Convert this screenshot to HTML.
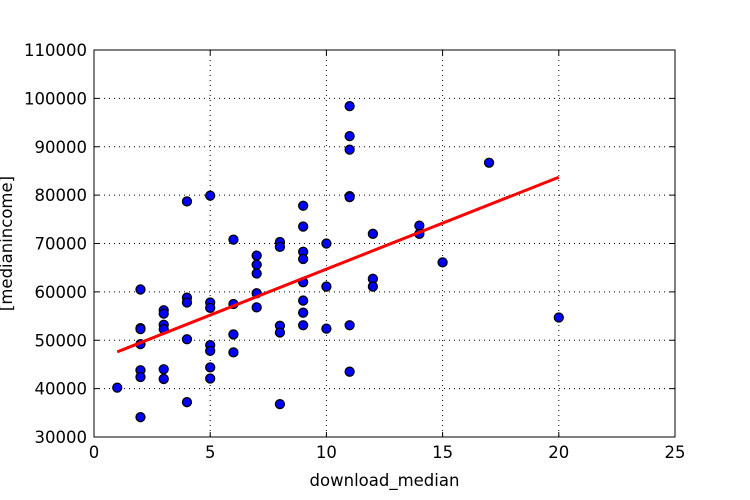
<!DOCTYPE html>
<html><head><meta charset="utf-8"><style>
body{margin:0;background:#fff;}
svg{display:block;font-family:"DejaVu Sans","Liberation Sans",sans-serif;}
</style></head><body>
<svg id="chart" width="750" height="500" viewBox="0 0 750 500"></svg>
<script>
const xValues=[1,2,2,2,2,2,2,2,3,3,3,3,3,3,4,4,4,4,4,5,5,5,5,5,5,5,6,6,6,6,7,7,7,7,7,8,8,8,8,8,9,9,9,9,9,9,9,9,10,10,10,11,11,11,11,11,11,11,12,12,12,14,14,15,17,20];
const yValues=[40200,60500,52500,52300,49200,43800,42400,34100,56200,55500,53200,52300,44000,42000,78700,58800,57800,50200,37200,79900,57800,56700,49000,47800,44400,42100,70800,57500,51200,47500,67500,65600,63800,59700,56800,70300,69300,53000,51600,36800,77800,73500,68300,66800,62000,58200,55700,53100,70000,61100,52400,98400,92200,89400,79800,79600,53100,43500,72000,62700,61100,73700,72000,66100,86700,54700];
const fitX=[1,20];
const fitIntercept=45700;
const fitSlope=1900;
const xTicks=[0,5,10,15,20,25];
const yTicks=[30000,40000,50000,60000,70000,80000,90000,100000,110000];

const L=94,R=675,T=50,B=437;
const FS=16.5;
const xs=v=>L+(v-0)/(25-0)*(R-L);
const ys=v=>B-(v-30000)/(110000-30000)*(B-T);
const NS="http://www.w3.org/2000/svg";
const svg=document.getElementById('chart');
function mk(tag,attrs,parent){const e=document.createElementNS(NS,tag);for(const k in attrs)e.setAttribute(k,attrs[k]);(parent||svg).appendChild(e);return e;}

const grid=mk('g',{});


xTicks.forEach(t=>{
  const l=mk('line',{x1:xs(t),x2:xs(t),y1:T,y2:B,stroke:'#000','stroke-width':1,'stroke-dasharray':'1,4'},grid);
  
  
  const tk=mk('line',{x1:xs(t),x2:xs(t),y1:B,y2:B-5,stroke:'#000'});
  
  
  const tk2=mk('line',{x1:xs(t),x2:xs(t),y1:T,y2:T+5,stroke:'#000'});
  
  
  const tx=mk('text',{x:xs(t),y:B+21,'text-anchor':'middle','font-size':FS});
  tx.textContent=t;
  
  
});
yTicks.forEach(t=>{
  const l=mk('line',{x1:L,x2:R,y1:ys(t),y2:ys(t),stroke:'#000','stroke-width':1,'stroke-dasharray':'1,4'},grid);
  
  
  const tk=mk('line',{x1:L,x2:L+5,y1:ys(t),y2:ys(t),stroke:'#000'});
  
  
  const tk2=mk('line',{x1:R,x2:R-5,y1:ys(t),y2:ys(t),stroke:'#000'});
  
  
  const tx=mk('text',{x:L-7,y:ys(t)+6,'text-anchor':'end','font-size':FS});
  tx.textContent=t;
  
  
});

const pts=mk('g',{});


xValues.forEach((x,i)=>{
  const c=mk('circle',{cx:xs(x),cy:ys(yValues[i]),r:4.5,fill:'#0000ff',stroke:'#000','stroke-width':1.3},pts);
  
  
});

const fl=mk('line',{x1:xs(fitX[0]),y1:ys(fitIntercept+fitSlope*fitX[0]),x2:xs(fitX[1]),y2:ys(fitIntercept+fitSlope*fitX[1]),stroke:'#ff0000','stroke-width':3});



const frame=mk('rect',{x:L,y:T,width:R-L,height:B-T,fill:'none',stroke:'#000','stroke-width':1});



const xl=mk('text',{x:(L+R)/2,y:486,'text-anchor':'middle','font-size':FS});
xl.textContent='download_median';


const yl=mk('text',{x:0,y:0,'text-anchor':'middle','font-size':FS,transform:'translate(12,'+((T+B)/2)+') rotate(-90)'});
yl.textContent='[medianincome]';


</script>
</body></html>
